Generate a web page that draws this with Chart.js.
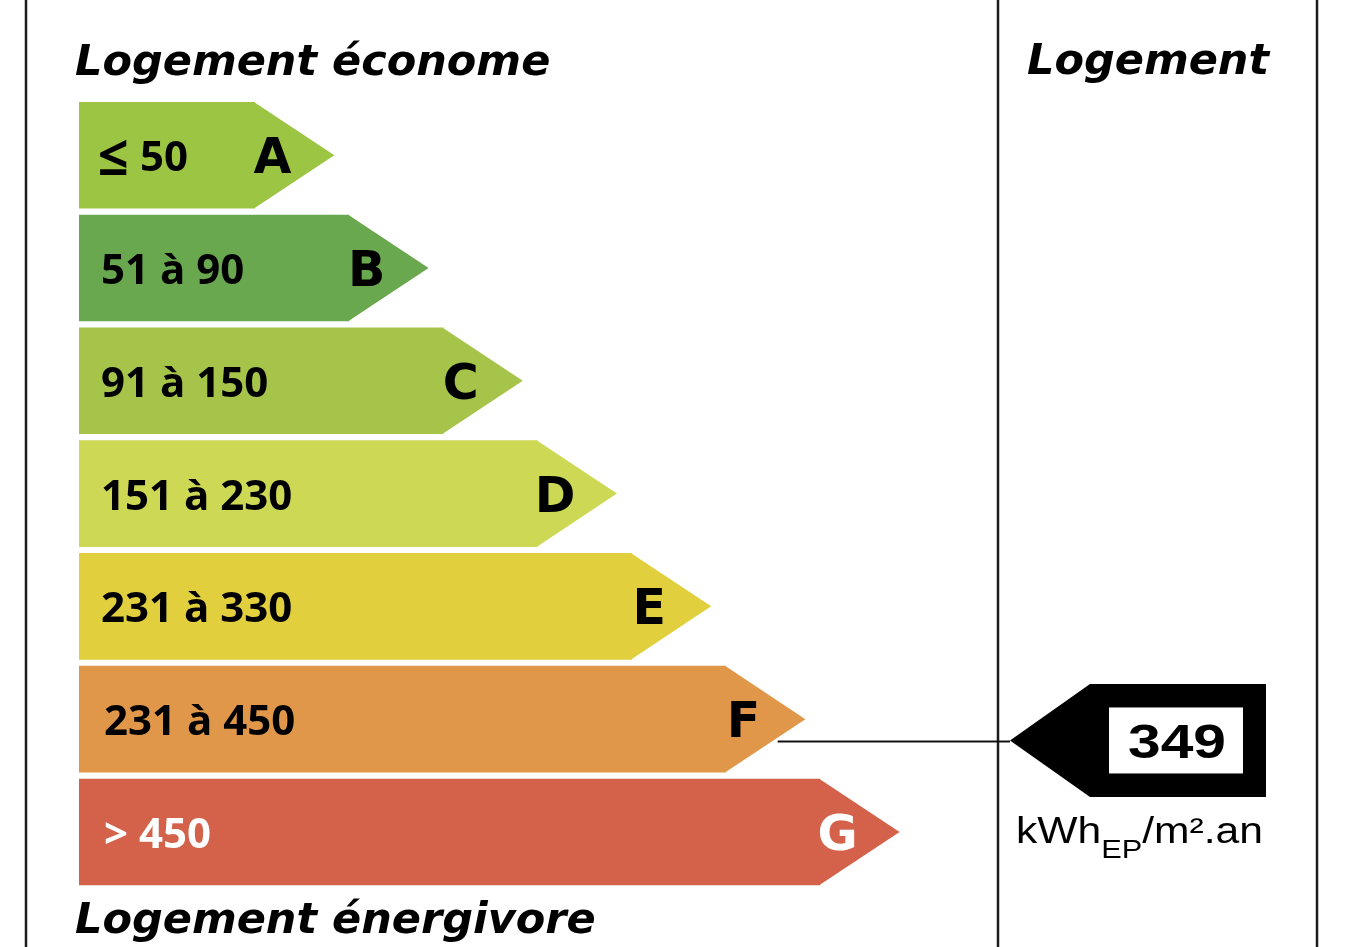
<!DOCTYPE html>
<html>
<head>
<meta charset="utf-8">
<script src="https://cdn.jsdelivr.net/npm/chart.js@4.4.1/dist/chart.umd.min.js"></script>
<style>
html,body{margin:0;padding:0;background:#fff;overflow:hidden;}
#wrap{width:1355px;height:947px;position:relative;}
</style>
</head>
<body>
<div id="wrap"><canvas id="c"></canvas></div>
<script>
// ---- data ----
const classes = ['A', 'B', 'C', 'D', 'E', 'F', 'G'];
const rangeLabels = ['≤50', '51 à 90', '91 à 150', '151 à 230', '231 à 330', '231 à 450', '> 450'];
const classRank = [1, 2, 3, 4, 5, 6, 7];
const classUpper = [50, 90, 150, 230, 330, 450, Infinity];
const classColors = ['#9dc544', '#6aa84f', '#a6c44a', '#cdd955', '#e2cf3e', '#e09749', '#d4614a'];
const textColors = ['#000', '#000', '#000', '#000', '#000', '#000', '#fff'];
const housingValue = 349;
const unitMain = 'kWh', unitSub = 'EP', unitTail = '/m².an';
const titleTop = 'Logement économe';
const titleBottom = 'Logement énergivore';
const titleRight = 'Logement';

// ---- scale setup ----
const xMin = -0.868, xMax = 10;

function fitText(ctx, txt, x, y, font, targetW) {
  ctx.font = font;
  const w = ctx.measureText(txt).width;
  const s = targetW ? targetW / w : 1;
  ctx.save();
  ctx.translate(x, y);
  ctx.scale(s, 1);
  ctx.textAlign = 'left';
  ctx.fillText(txt, 0, 0);
  ctx.restore();
  return w * s;
}

const dpePlugin = {
  id: 'dpe',
  beforeDatasetsDraw(chart) {
    const ctx = chart.ctx;
    ctx.save();
    ctx.strokeStyle = '#1c1c1c';
    ctx.lineWidth = 2.5;
    [26, 998, 1317].forEach(x => {
      ctx.beginPath();
      ctx.moveTo(x, 0);
      ctx.lineTo(x, chart.height);
      ctx.stroke();
    });
    ctx.restore();
  },
  afterDatasetsDraw(chart) {
    const ctx = chart.ctx;
    const els = chart.getDatasetMeta(0).data;
    ctx.save();
    els.forEach((el, i) => {
      const p = el.getProps(['x', 'y', 'base', 'height'], true);
      const h = p.height, depth = h * 0.745;
      ctx.fillStyle = classColors[i];
      ctx.beginPath();
      ctx.moveTo(p.x - 1, p.y - h / 2);
      ctx.lineTo(p.x + depth, p.y);
      ctx.lineTo(p.x - 1, p.y + h / 2);
      ctx.closePath();
      ctx.fill();
      // range label
      ctx.fillStyle = textColors[i];
      ctx.textAlign = 'left';
      ctx.textBaseline = 'alphabetic';
      let lx = p.base + 22 + (i >= 5 ? 3 : 0);
      let txt = rangeLabels[i];
      if (txt.charAt(0) === '≤') {
        ctx.font = 'bold 54px "Open Sans"';
        ctx.fillText('≤', lx - 3, p.y + 20);
        lx += 39;
        txt = txt.slice(1);
      }
      ctx.font = 'bold 42px "Open Sans"';
      ctx.fillText(txt, lx, p.y + 16);
      // class letter
      ctx.font = 'bold 49px "DejaVu Sans"';
      ctx.textAlign = 'center';
      ctx.fillText(classes[i], p.x + depth - 62, p.y + 18);
    });

    // titles
    ctx.fillStyle = '#000';
    ctx.textAlign = 'left';
    ctx.font = 'italic bold 43px "DejaVu Sans"';
    ctx.fillText(titleTop, 75, 75);
    ctx.fillText(titleRight, 1027, 74);
    ctx.fillText(titleBottom, 75, 933);

    // marker for the housing value
    const idx = classUpper.findIndex(u => housingValue <= u);
    const el = els[idx].getProps(['x', 'y', 'height'], true);
    const depth = el.height * 0.745;
    const my = el.y + 0.2 * el.height;
    const startX = el.x + depth * (1 - (my - el.y) / (el.height / 2)) + 4;
    const tipX = 1010;
    ctx.strokeStyle = '#111';
    ctx.lineWidth = 2;
    ctx.beginPath();
    ctx.moveTo(startX, my + 1);
    ctx.lineTo(tipX, my + 1);
    ctx.stroke();

    ctx.fillStyle = '#000';
    ctx.beginPath();
    ctx.moveTo(tipX, my);
    ctx.lineTo(1090, my - 56.5);
    ctx.lineTo(1266, my - 56.5);
    ctx.lineTo(1266, my + 56.5);
    ctx.lineTo(1090, my + 56.5);
    ctx.closePath();
    ctx.fill();
    ctx.fillStyle = '#fff';
    ctx.fillRect(1109, my - 33, 134, 66);

    ctx.fillStyle = '#000';
    const vw = 98;
    fitText(ctx, String(housingValue), 1177 - vw / 2, my + 18, 'bold 48px "Liberation Sans"', vw);

    // unit
    const fMain = '36px "Liberation Sans"', fSub = '26px "Liberation Sans"';
    ctx.font = fMain; const w1 = ctx.measureText(unitMain).width;
    const w3 = ctx.measureText(unitTail).width;
    ctx.font = fSub; const w2 = ctx.measureText(unitSub).width;
    const s = 247 / (w1 + w2 + w3);
    const ub = my + 103;
    let ux = 1016;
    fitText(ctx, unitMain, ux, ub, fMain, w1 * s); ux += w1 * s;
    fitText(ctx, unitSub, ux, ub + 15, fSub, w2 * s); ux += w2 * s;
    fitText(ctx, unitTail, ux, ub, fMain, w3 * s);
    ctx.restore();
  }
};

function build() {
  new Chart(document.getElementById('c'), {
    type: 'bar',
    data: {
      labels: classes,
      datasets: [{
        data: classRank,
        backgroundColor: classColors,
        base: xMin,
        barPercentage: 0.945,
        categoryPercentage: 1,
        borderWidth: 0
      }]
    },
    options: {
      indexAxis: 'y',
      responsive: true,
      maintainAspectRatio: false,
      animation: false,
      layout: { padding: { left: 79, right: 252.2, top: 98.9, bottom: 58.7 } },
      scales: {
        x: { type: 'linear', min: xMin, max: xMax, display: false },
        y: { display: false }
      },
      plugins: { legend: { display: false }, tooltip: { enabled: false } }
    },
    plugins: [dpePlugin]
  });
}

const fontLoads = [
  'bold 42px "Open Sans"', 'bold 49px "DejaVu Sans"', 'italic bold 43px "DejaVu Sans"',
  'bold 48px "Liberation Sans"', '36px "Liberation Sans"'
].map(f => document.fonts.load(f).catch(() => null));
Promise.race([Promise.all(fontLoads), new Promise(r => setTimeout(r, 800))]).then(build);
</script>
</body>
</html>
